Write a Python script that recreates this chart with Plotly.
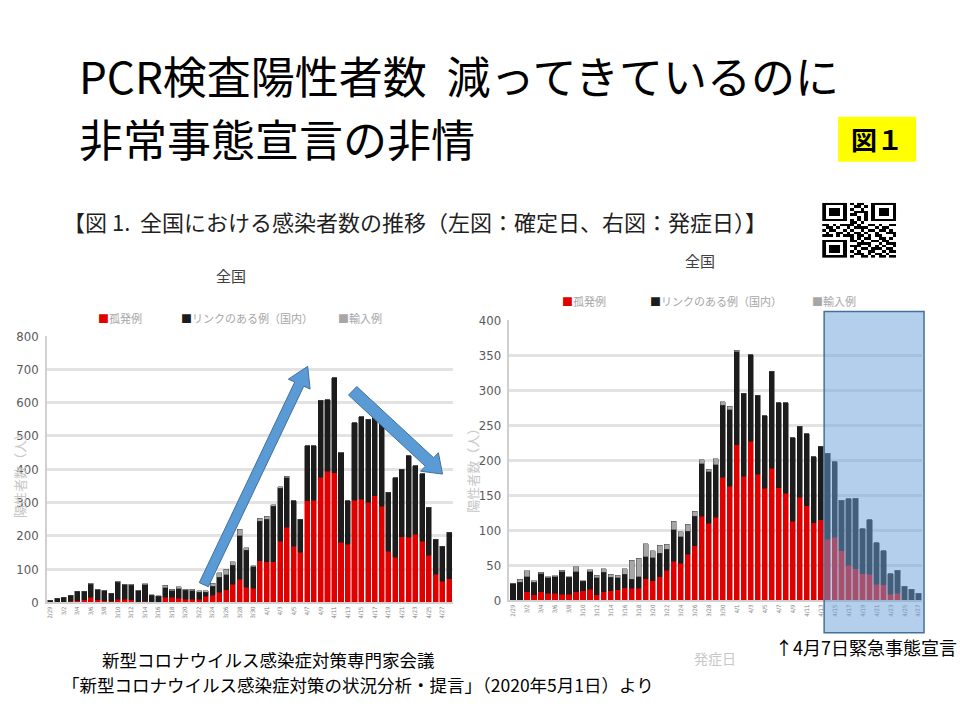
import pandas as pd
import plotly.graph_objs as go

# slide recreation: two stacked bar charts (confirmation date / onset date)

W, H = 960, 720

# categories
left_dates = [f"{d.month}/{d.day}" for d in pd.date_range("2020-02-29", "2020-04-28")]
right_dates = [f"{d.month}/{d.day}" for d in pd.date_range("2020-02-29", "2020-04-27")]

# left chart (確定日): 孤発例 / リンクのある例 / 輸入例
left_sporadic = [1, 1, 2, 3, 5, 8, 15, 8, 5, 3, 10, 10, 8, 2, 3, 2, 2, 15, 15, 12,
                 10, 10, 10, 18, 22, 30, 38, 55, 70, 45, 43, 125, 122, 122, 183, 226, 169, 151, 305, 306,
                 375, 394, 389, 180, 175, 306, 310, 301, 320, 288, 153, 136, 197, 195, 205, 183, 141, 85, 63, 71]
left_linked = [5, 11, 14, 18, 28, 25, 40, 30, 30, 24, 51, 43, 44, 33, 50, 20, 17, 29, 20, 29,
               26, 25, 21, 13, 27, 45, 45, 57, 130, 111, 64, 119, 127, 166, 159, 148, 136, 98, 165, 164,
               232, 215, 286, 270, 130, 234, 248, 249, 235, 252, 177, 238, 203, 245, 206, 203, 145, 105, 106, 139]
left_imported = [0, 0, 0, 0, 1, 1, 2, 1, 1, 0, 2, 2, 2, 1, 3, 1, 1, 7, 4, 6,
                 4, 5, 4, 4, 8, 14, 17, 10, 20, 8, 3, 8, 10, 5, 5, 5, 0, 0, 0, 0,
                 0, 0, 0, 0, 0, 0, 0, 0, 0, 0, 0, 0, 0, 0, 0, 0, 0, 0, 0, 0]

# right chart (発症日)
right_sporadic = [0, 0, 12, 8, 12, 10, 10, 9, 9, 12, 14, 16, 8, 12, 14, 15, 18, 17, 17, 31,
                  28, 34, 43, 56, 53, 66, 78, 120, 110, 119, 176, 163, 222, 177, 227, 180, 160, 189, 161, 153,
                  113, 147, 135, 111, 115, 87, 90, 71, 50, 45, 38, 37, 23, 22, 9, 10, 0, 0, 0]
right_linked = [24, 26, 22, 18, 26, 22, 24, 32, 24, 29, 13, 25, 24, 28, 19, 17, 19, 13, 17, 31,
                33, 33, 30, 45, 38, 33, 42, 75, 74, 75, 103, 109, 133, 119, 124, 113, 104, 138, 121, 129,
                119, 102, 103, 94, 105, 123, 108, 72, 95, 101, 64, 78, 59, 49, 29, 33, 20, 16, 10]
right_imported = [0, 4, 8, 2, 2, 2, 1, 2, 1, 7, 1, 3, 4, 5, 4, 4, 8, 27, 26, 19,
                  10, 12, 7, 12, 7, 10, 7, 6, 3, 8, 5, 5, 2, 0, 0, 0, 0, 0, 0, 0,
                  0, 0, 0, 0, 0, 0, 0, 0, 0, 0, 0, 0, 0, 0, 0, 0, 0, 0, 0]

series_names = ["孤発例", "リンクのある例（国内）", "輸入例"]
series_colors = ["#e00000", "#1c1c1c", "#a6a6a6"]

# decorative QR-like block
qr_rows = [
    "111111101011001111111",
    "100000100110101000001",
    "101110101001001011101",
    "101110100111101011101",
    "101110101100101011101",
    "100000100010101000001",
    "111111101010101111111",
    "000000001101000000000",
    "110101111010011010011",
    "011010010111100101100",
    "101100101001011011010",
    "010011010110100100111",
    "111010111011010110001",
    "000000001010110011010",
    "111111101101001101100",
    "100000100011110010111",
    "101110101110010101001",
    "101110100101101110110",
    "101110101010011001011",
    "100000100111010110100",
    "111111101001101011011",
]


def px(x):
    return x / W


def py(y):
    return 1 - y / H


def block_arrow(x0, y0, x1, y1, shaft=10, head_w=24, head_l=20):
    """Block arrow polygon from pixel tail to pixel tip, returned as a paper path."""
    dx, dy = x1 - x0, y1 - y0
    L = (dx ** 2 + dy ** 2) ** 0.5
    ux, uy = dx / L, dy / L
    nx, ny = -uy, ux
    bx, by = x1 - ux * head_l, y1 - uy * head_l
    pts = [
        (x0 + nx * shaft / 2, y0 + ny * shaft / 2),
        (bx + nx * shaft / 2, by + ny * shaft / 2),
        (bx + nx * head_w / 2, by + ny * head_w / 2),
        (x1, y1),
        (bx - nx * head_w / 2, by - ny * head_w / 2),
        (bx - nx * shaft / 2, by - ny * shaft / 2),
        (x0 - nx * shaft / 2, y0 - ny * shaft / 2),
    ]
    return "M " + " L ".join(f"{px(a):.5f},{py(b):.5f}" for a, b in pts) + " Z"


fig = go.Figure()

left_vals = [left_sporadic, left_linked, left_imported]
right_vals = [right_sporadic, right_linked, right_imported]
for i in range(3):
    fig.add_trace(go.Bar(x=left_dates, y=left_vals[i], name=series_names[i],
                         marker=dict(color=series_colors[i],
                                     line=dict(color="#404040" if i == 2 else series_colors[i], width=0.5)),
                         xaxis="x", yaxis="y", showlegend=False))
for i in range(3):
    fig.add_trace(go.Bar(x=right_dates, y=right_vals[i], name=series_names[i],
                         marker=dict(color=series_colors[i],
                                     line=dict(color="#404040" if i == 2 else series_colors[i], width=0.5)),
                         xaxis="x2", yaxis="y2", showlegend=False))

fig.add_trace(go.Heatmap(z=[[int(c) for c in r] for r in qr_rows],
                         colorscale=[[0, "white"], [1, "black"]], showscale=False,
                         xaxis="x3", yaxis="y3", hoverinfo="skip"))

tickfont_y = dict(family="DejaVu Sans Condensed, Liberation Sans Narrow, sans-serif", size=13, color="#595959")
tickfont_x = dict(family="DejaVu Sans Condensed, sans-serif", size=6, color="#7f7f7f")

fig.update_layout(
    width=W, height=H,
    margin=dict(l=0, r=0, t=0, b=0),
    paper_bgcolor="white", plot_bgcolor="white",
    font=dict(family="Noto Sans CJK JP", color="black"),
    barmode="stack", bargap=0.25,
    xaxis=dict(domain=[px(46), px(452)], anchor="y", type="category", tickangle=-90,
               tickfont=tickfont_x, showline=True, linecolor="#d0d0d0", linewidth=1.5,
               ticks="", showgrid=False),
    yaxis=dict(domain=[py(608), py(336)], anchor="x", range=[0, 800], dtick=100,
               tickfont=tickfont_y, gridcolor="#e3e3e3", gridwidth=3, zeroline=False,
               showline=True, linecolor="#d0d0d0", linewidth=1.5, ticklabelstandoff=4),
    xaxis2=dict(domain=[px(509), px(922)], anchor="y2", type="category", tickangle=-90,
                tickfont=tickfont_x, showline=True, linecolor="#d0d0d0", linewidth=1.5,
                ticks="", showgrid=False),
    yaxis2=dict(domain=[py(606), py(320)], anchor="x2", range=[0, 400], dtick=50,
                tickfont=tickfont_y, gridcolor="#e3e3e3", gridwidth=3, zeroline=False,
                showline=True, linecolor="#d0d0d0", linewidth=1.5, ticklabelstandoff=4),
    xaxis3=dict(domain=[px(822), px(896)], anchor="y3", visible=False),
    yaxis3=dict(domain=[py(256), py(200)], anchor="x3", visible=False, autorange="reversed"),
)

# shapes: arrows, highlighted period, yellow label box
fig.add_shape(type="path", xref="paper", yref="paper", layer="above",
              path=block_arrow(203, 590, 307, 367, shaft=10, head_w=24, head_l=20),
              fillcolor="#5b9bd5", line=dict(color="#41719c", width=1))
fig.add_shape(type="path", xref="paper", yref="paper", layer="above",
              path=block_arrow(352, 392, 442, 477, shaft=12, head_w=26, head_l=18),
              fillcolor="#5b9bd5", line=dict(color="#41719c", width=1))
fig.add_shape(type="rect", xref="paper", yref="paper", layer="above",
              x0=px(824), x1=px(924), y0=py(639), y1=py(311),
              fillcolor="rgba(105,160,218,0.5)", line=dict(color="#41719c", width=1.5))
fig.add_shape(type="rect", xref="paper", yref="paper",
              x0=px(838), x1=px(916), y0=py(158), y1=py(112),
              fillcolor="#ffff00", line=dict(width=0))

notes = [
    # (text, x, y, size, color, anchor, angle)
    ("PCR検査陽性者数  減ってきているのに", 76, 69, 44, "black", "left", 0),
    ("非常事態宣言の非情", 76, 134, 44, "black", "left", 0),
    ("<b>図１</b>", 877, 134, 26, "black", "center", 0),
    ("【図 1.  全国における感染者数の推移（左図：確定日、右図：発症日）】", 60, 219, 22, "#1f1f1f", "left", 0),
    ("全国", 230, 274, 15, "#404040", "center", 0),
    ("全国", 700, 259, 15, "#404040", "center", 0),
    ("陽性者数（人）", 18, 475, 13, "#c8c8c8", "center", -90),
    ("陽性者数（人）", 472, 470, 13, "#c8c8c8", "center", -90),
    ("発症日", 715, 665, 14, "#c8c8c8", "center", 0),
    ("↑4月7日緊急事態宣言", 773, 654, 18, "black", "left", 0),
    ("新型コロナウイルス感染症対策専門家会議", 99, 666, 17.5, "black", "left", 0),
    ("「新型コロナウイルス感染症対策の状況分析・提言」（2020年5月1日）より", 59, 692, 17.5, "black", "left", 0),
]
for text, x, y, size, color, anchor, angle in notes:
    fig.add_annotation(text=text, x=px(x), y=py(y), xref="paper", yref="paper",
                       xanchor=anchor, yanchor="middle", showarrow=False, textangle=angle,
                       font=dict(size=size, color=color))

# hand-placed legends
legend_pos = [((95, 318), (178, 318), (335, 318)), ((560, 300), (648, 300), (810, 300))]
for row in legend_pos:
    for (x, y), name, col in zip(row, series_names, series_colors):
        fig.add_annotation(text=f'<span style="color:{col}">■</span>{name}', x=px(x), y=py(y),
                           xref="paper", yref="paper", xanchor="left", yanchor="middle",
                           showarrow=False, font=dict(size=11, color="#a6a6a6"))

# drop the default body margin so the figure sits at the page corner
fig.write_html("out.html", config={"displayModeBar": False},
               post_script="document.body.style.margin='0';")
